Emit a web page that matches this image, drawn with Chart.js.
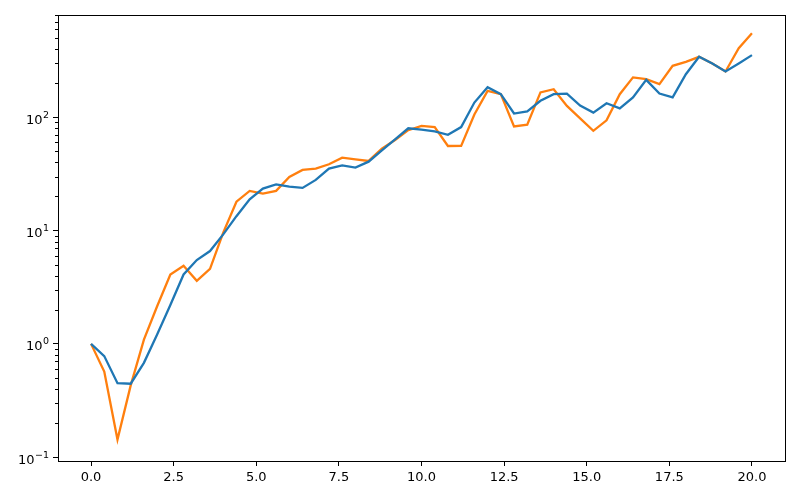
<!DOCTYPE html>
<html>
<head>
<meta charset="utf-8">
<script src="https://cdn.jsdelivr.net/npm/chart.js@4/dist/chart.umd.min.js"></script>
<style>
  html, body { margin: 0; padding: 0; background: #fff; }
  canvas { display: block; }
</style>
</head>
<body>
<canvas id="chart" width="800" height="500"></canvas>
<script>
var xValues = [0, 0.4, 0.8, 1.2, 1.6, 2, 2.4, 2.8, 3.2, 3.6,
               4, 4.4, 4.8, 5.2, 5.6, 6, 6.4, 6.8, 7.2, 7.6,
               8, 8.4, 8.8, 9.2, 9.6, 10, 10.4, 10.8, 11.2, 11.6,
               12, 12.4, 12.8, 13.2, 13.6, 14, 14.4, 14.8, 15.2, 15.6,
               16, 16.4, 16.8, 17.2, 17.6, 18, 18.4, 18.8, 19.2, 19.6, 20];

var blueValues = [1.0, 0.78, 0.45, 0.445, 0.68, 1.21, 2.2, 4.1, 5.5, 6.6,
                  9.25, 13.4, 18.9, 23.5, 25.6, 24.4, 23.8, 28, 35.3, 37.7,
                  36, 40.6, 51, 64, 80, 78, 75, 70, 82, 135,
                  184, 160, 108, 113, 140, 160, 162, 127, 110, 133,
                  120, 150, 214, 162, 150, 240, 342, 299, 254, 299, 354];

var orangeValues = [1.0, 0.57, 0.143, 0.43, 1.09, 2.15, 4.1, 4.9, 3.6, 4.6,
                    9.6, 18, 22.4, 21.2, 22.4, 29.7, 34.3, 35.3, 38.5, 44,
                    42.6, 41.2, 53, 63, 77, 84, 82, 55.8, 56, 106,
                    171, 160, 83, 86, 166, 177, 126, 98, 76, 94,
                    160, 225, 217, 196, 285, 309, 342, 299, 254, 408, 551];

var xTicks = [0, 2.5, 5, 7.5, 10, 12.5, 15, 17.5, 20];
var yTicks = [0.1, 1, 10, 100];
var yTickExponents = ['\u22121', '0', '1', '2'];

function toPoints(ys) {
    return xValues.map(function (x, i) { return { x: x, y: ys[i] }; });
}

var FONT = 'DejaVu Sans';
var fontSpec = { family: FONT, size: 13 };

// frame round the plot area, minor log ticks and the 10^n labels
var framePlugin = {
    id: 'frame',
    afterDraw: function (chart) {
        var ctx = chart.ctx;
        var a = chart.chartArea;
        var y = chart.scales.y;
        ctx.save();
        ctx.strokeStyle = '#000';
        ctx.lineWidth = 1;
        for (var k = -2; k <= 3; k++) {
            for (var m = 2; m <= 9; m++) {
                var v = m * Math.pow(10, k);
                if (v < y.min || v > y.max) continue;
                var py = Math.round(y.getPixelForValue(v)) + 0.5;
                ctx.beginPath();
                ctx.moveTo(a.left - 3, py);
                ctx.lineTo(a.left, py);
                ctx.stroke();
            }
        }
        ctx.strokeRect(Math.round(a.left) + 0.5, Math.round(a.top) + 0.5,
                       Math.round(a.right - a.left), Math.round(a.bottom - a.top));

        ctx.fillStyle = '#000';
        ctx.textBaseline = 'alphabetic';
        ctx.textAlign = 'left';
        yTicks.forEach(function (t, i) {
            var ty = y.getPixelForValue(t);
            ctx.font = '13px "' + FONT + '"';
            var wBase = ctx.measureText('10').width;
            ctx.font = '9.5px "' + FONT + '"';
            var wExp = ctx.measureText(yTickExponents[i]).width;
            var right = a.left - 9;
            var x0 = right - wBase - wExp - 0.5;
            var base = ty + 6.5;
            ctx.font = '13px "' + FONT + '"';
            ctx.fillText('10', x0, base);
            ctx.font = '9.5px "' + FONT + '"';
            ctx.fillText(yTickExponents[i], x0 + wBase + 0.5, base - 6);
        });
        ctx.restore();
    }
};

new Chart(document.getElementById('chart').getContext('2d'), {
    type: 'line',
    data: {
        datasets: [{
            data: toPoints(blueValues),
            borderColor: '#1f77b4',
            borderWidth: 2.3,
            pointRadius: 0,
            tension: 0,
            fill: false
        }, {
            data: toPoints(orangeValues),
            borderColor: '#ff7f0e',
            borderWidth: 2.3,
            pointRadius: 0,
            tension: 0,
            fill: false
        }]
    },
    options: {
        responsive: false,
        animation: false,
        devicePixelRatio: 1,
        layout: { padding: { top: 15, right: 15, left: 0, bottom: 0 } },
        plugins: {
            legend: { display: false },
            tooltip: { enabled: false }
        },
        scales: {
            x: {
                type: 'linear',
                min: -1,
                max: 21,
                afterBuildTicks: function (scale) {
                    scale.ticks = xTicks.map(function (v) { return { value: v }; });
                },
                afterFit: function (scale) { scale.height = 39; },
                grid: {
                    drawOnChartArea: false,
                    drawTicks: true,
                    tickLength: 5,
                    tickColor: '#000'
                },
                border: { display: false },
                ticks: {
                    color: '#000',
                    font: fontSpec,
                    padding: 4,
                    maxRotation: 0,
                    autoSkip: false,
                    callback: function (value) { return Number(value).toFixed(1); }
                }
            },
            y: {
                type: 'logarithmic',
                min: 0.0925,
                max: 800,
                afterBuildTicks: function (scale) {
                    scale.ticks = yTicks.map(function (v) { return { value: v }; });
                },
                afterFit: function (scale) { scale.width = 58; },
                grid: {
                    drawOnChartArea: false,
                    drawTicks: true,
                    tickLength: 5,
                    tickColor: '#000'
                },
                border: { display: false },
                ticks: {
                    display: false,
                    autoSkip: false
                }
            }
        }
    },
    plugins: [framePlugin]
});
</script>
</body>
</html>
